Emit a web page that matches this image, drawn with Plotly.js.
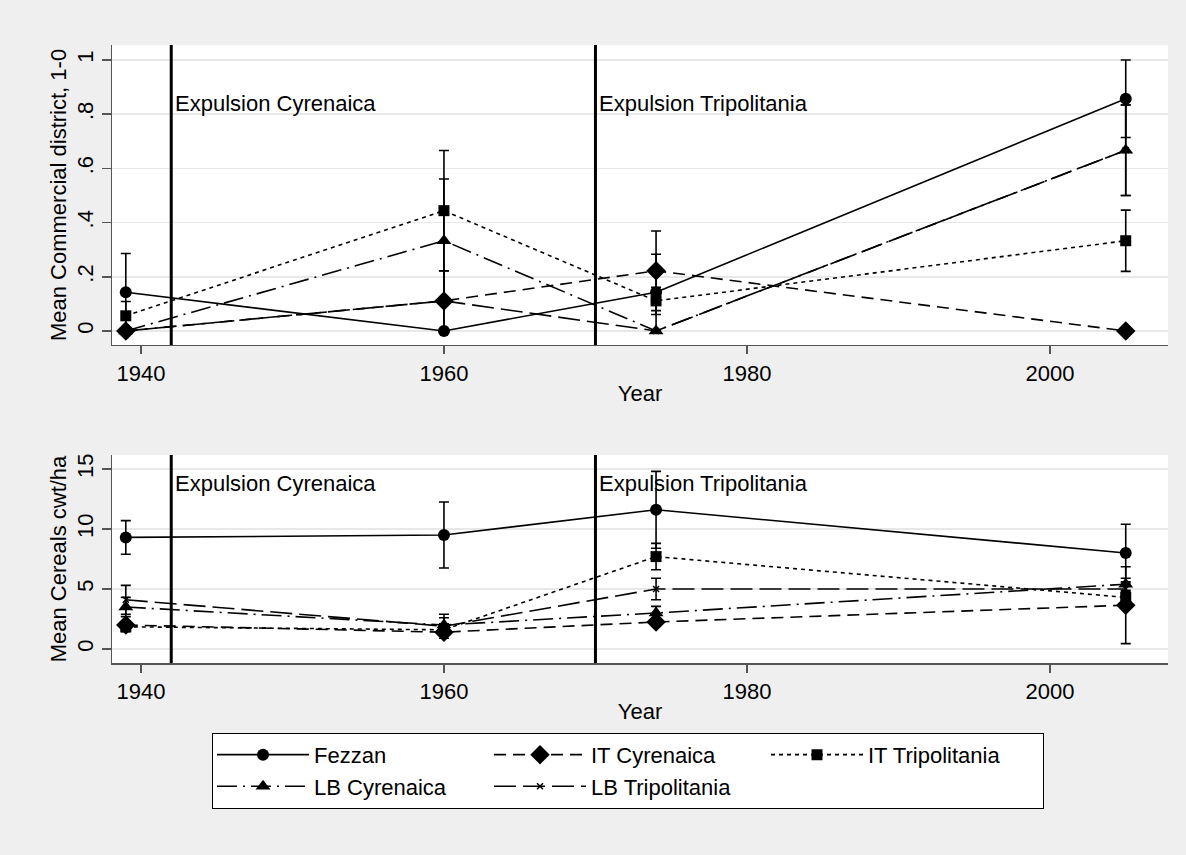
<!DOCTYPE html>
<html>
<head>
<meta charset="utf-8">
<script src="https://cdn.plot.ly/plotly-3.0.1.min.js"></script>
<style>
html,body{margin:0;padding:0;background:#efefef;}
#chart{width:1186px;height:855px;}
</style>
</head>
<body>
<div id="chart"></div>
<script>
// ---- Data ----
var years = [1939, 1960, 1974, 2005];
var seriesNames = ["Fezzan", "IT Cyrenaica", "IT Tripolitania", "LB Cyrenaica", "LB Tripolitania"];

// Top panel: Mean Commercial district, 1-0
var fezzanComm      = [0.143, 0.000, 0.143, 0.857];
var fezzanCommErr   = [0.143, 0.000, 0.140, 0.143];
var itCyrComm       = [0.000, 0.111, 0.222, 0.000];
var itCyrCommErr    = [0.000, 0.111, 0.147, 0.000];
var itTripComm      = [0.056, 0.444, 0.111, 0.333];
var itTripCommErr   = [0.053, 0.222, 0.050, 0.113];
var lbCyrComm       = [0.000, 0.333, 0.000, 0.667];
var lbCyrCommErr    = [0.000, 0.228, 0.000, 0.167];
var lbTripComm      = [0.000, 0.111, 0.000, 0.667];
var lbTripCommErr   = [0.000, 0.111, 0.000, 0.167];

// Bottom panel: Mean Cereals cwt/ha
var fezzanCer       = [9.3, 9.5, 11.6, 8.0];
var fezzanCerErr    = [1.4, 2.75, 3.2, 2.4];
var itCyrCer        = [2.0, 1.4, 2.25, 3.65];
var itCyrCerErr     = [0.3, 0.3, 0.3, 3.2];
var itTripCer       = [1.85, 1.6, 7.7, 4.3];
var itTripCerErr    = [0.4, 0.5, 1.1, 0.5];
var lbCyrCer        = [3.5, 2.0, 3.0, 5.4];
var lbCyrCerErr     = [0.8, 0.6, 0.55, 0.5];
var lbTripCer       = [4.1, 1.9, 5.0, 5.0];
var lbTripCerErr    = [1.2, 1.0, 0.9, 0.5];

var expulsionYears  = [1942, 1970];
var expulsionLabels = ["Expulsion Cyrenaica", "Expulsion Tripolitania"];

var xTicks = [1940, 1960, 1980, 2000];
var topTicks = [0, 0.2, 0.4, 0.6, 0.8, 1];
var topTickText = ["0", ".2", ".4", ".6", ".8", "1"];
var botTicks = [0, 5, 10, 15];
var botTickText = ["0", "5", "10", "15"];

// ---- Styles ----
var styles = [
  {symbol: "circle", size: 12, dash: "solid"},
  {symbol: "diamond", size: 15, dash: "12px,7px"},
  {symbol: "square", size: 11, dash: "4px,4px"},
  {symbol: "triangle-up", size: 13, dash: "20px,6px,2px,6px"},
  {symbol: "x-thin", size: 6, dash: "22px,7px"}
];
var topVals = [fezzanComm, itCyrComm, itTripComm, lbCyrComm, lbTripComm];
var topErrs = [fezzanCommErr, itCyrCommErr, itTripCommErr, lbCyrCommErr, lbTripCommErr];
var botVals = [fezzanCer, itCyrCer, itTripCer, lbCyrCer, lbTripCer];
var botErrs = [fezzanCerErr, itCyrCerErr, itTripCerErr, lbCyrCerErr, lbTripCerErr];

var traces = [];
function addTraces(vals, errs, xa, ya, showLeg) {
  for (var i = 0; i < vals.length; i++) {
    var s = styles[i];
    traces.push({
      type: "scatter", mode: "lines+markers",
      x: years, y: vals[i], xaxis: xa, yaxis: ya,
      name: seriesNames[i], showlegend: showLeg, legendgroup: seriesNames[i],
      line: {color: "#000", width: 1.6, dash: s.dash},
      marker: {symbol: s.symbol, size: s.size, color: "#000",
               line: {color: "#000", width: s.symbol === "x-thin" ? 1.5 : 0}},
      error_y: {type: "data", array: errs[i], visible: true, color: "#000", thickness: 1.6, width: 5},
      cliponaxis: false
    });
  }
}
addTraces(topVals, topErrs, "x", "y", true);
addTraces(botVals, botErrs, "x2", "y2", false);

var font = {family: "Liberation Sans, Arial, sans-serif", size: 22, color: "#000"};

var shapes = [];
var annotations = [];
[["x", "y", 0.84], ["x2", "y2", 13.83]].forEach(function (p) {
  for (var k = 0; k < expulsionYears.length; k++) {
    shapes.push({type: "line", xref: p[0], yref: p[1] + " domain",
      x0: expulsionYears[k], x1: expulsionYears[k], y0: 0, y1: 1,
      line: {color: "#000", width: 3}});
    annotations.push({xref: p[0], yref: p[1], x: expulsionYears[k], y: p[2],
      text: expulsionLabels[k], showarrow: false, xanchor: "left", xshift: 2,
      font: font});
  }
});

var xaxBase = {
  range: [1938.09, 2007.79], tickvals: xTicks, ticks: "outside", ticklen: 8,
  tickwidth: 1.5, tickcolor: "#555", showline: true, linecolor: "#555", linewidth: 1.5,
  showgrid: false, zeroline: false, tickfont: font,
  title: {text: "Year", font: font, standoff: 0}
};
var yaxBase = {
  ticks: "outside", ticklen: 9, tickwidth: 1.5, tickcolor: "#555",
  showline: true, linecolor: "#555", linewidth: 1.5, showgrid: true,
  gridcolor: "#e8e8e8", gridwidth: 1.5, zeroline: false, tickfont: font,
  tickangle: -90
};

var layout = {
  width: 1186, height: 855,
  paper_bgcolor: "#efefef", plot_bgcolor: "#ffffff",
  font: font,
  margin: {l: 112, r: 18, t: 45, b: 192},
  showlegend: true,
  xaxis: Object.assign({}, xaxBase, {anchor: "y", domain: [0, 1]}),
  xaxis2: Object.assign({}, xaxBase, {anchor: "y2", domain: [0, 1]}),
  yaxis: Object.assign({}, yaxBase, {anchor: "x", domain: [0.5146, 1], range: [-0.0517, 1.0554],
    tickvals: topTicks, ticktext: topTickText,
    title: {text: "Mean Commercial district, 1-0", font: font, standoff: 0}}),
  yaxis2: Object.assign({}, yaxBase, {anchor: "x2", domain: [0, 0.3366], range: [-1.167, 16.17],
    tickvals: botTicks, ticktext: botTickText,
    title: {text: "Mean Cereals cwt/ha", font: font, standoff: 0}}),
  shapes: shapes,
  annotations: annotations,
  legend: {
    orientation: "h", x: 0.0947, xanchor: "left", y: -0.113, yanchor: "top",
    bgcolor: "#ffffff", bordercolor: "#000", borderwidth: 1,
    font: font, itemwidth: 92, entrywidth: 170, entrywidthmode: "pixels",
    tracegroupgap: 0, itemclick: false
  }
};

Plotly.newPlot("chart", traces, layout, {displayModeBar: false, staticPlot: true});
</script>
</body>
</html>
